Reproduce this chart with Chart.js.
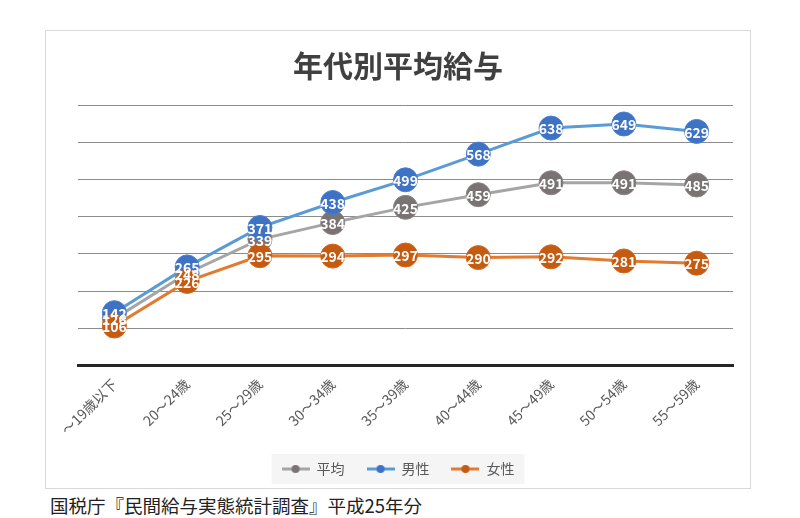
<!DOCTYPE html>
<html>
<head>
<meta charset="utf-8">
<script src="https://cdn.jsdelivr.net/npm/chart.js@4"></script>
<style>
  body { margin: 0; background: #fff; width: 800px; height: 518px; position: relative; overflow: hidden; }
  #box { position: absolute; left: 45px; top: 30px; width: 706px; height: 459px; box-sizing: border-box; border: 1px solid #d9d9d9; }
  #wrap { position: relative; width: 704px; height: 457px; }
  #note { position: absolute; left: 50px; top: 492px; font: 18.5px "Noto Sans CJK JP", sans-serif; color: #222; }
</style>
</head>
<body>
<div id="box"><div id="wrap"><canvas id="salaryChart"></canvas></div></div>
<div id="note">国税庁『民間給与実態統計調査』平成25年分</div>
<script>
// 年代別平均給与（万円）
let ageGroups = ["～19歳以下", "20～24歳", "25～29歳", "30～34歳", "35～39歳", "40～44歳", "45～49歳", "50～54歳", "55～59歳"];
let averagePay = [126, 248, 339, 384, 425, 459, 491, 491, 485];
let malePay = [142, 265, 371, 438, 499, 568, 638, 649, 629];
let femalePay = [106, 226, 295, 294, 297, 290, 292, 281, 275];

let jpFont = '"Noto Sans CJK JP", sans-serif';

function legendMarker(lineColor, dotColor) {
    let c = document.createElement("canvas");
    c.width = 28;
    c.height = 10;
    let ctx = c.getContext("2d");
    ctx.strokeStyle = lineColor;
    ctx.lineWidth = 3;
    ctx.beginPath();
    ctx.moveTo(0, 5);
    ctx.lineTo(28, 5);
    ctx.stroke();
    ctx.fillStyle = dotColor;
    ctx.beginPath();
    ctx.arc(14, 5, 4, 0, Math.PI * 2);
    ctx.fill();
    return c;
}

// 点の中に値を白文字で描く
let valueLabels = {
    id: "valueLabels",
    afterDatasetsDraw(chart) {
        let ctx = chart.ctx;
        ctx.save();
        ctx.font = "bold 14px " + jpFont;
        ctx.fillStyle = "#fff";
        ctx.textAlign = "center";
        ctx.textBaseline = "middle";
        [0, 1, 2].forEach(i => {
            let meta = chart.getDatasetMeta(i);
            meta.data.forEach((pt, j) => {
                ctx.fillText(chart.data.datasets[i].data[j], pt.x, pt.y + 1);
            });
        });
        ctx.restore();
    }
};

// 凡例の背景
let legendBg = {
    id: "legendBg",
    beforeDraw(chart) {
        let boxes = chart.legend.legendHitBoxes;
        if (!boxes || !boxes.length) return;
        let left = boxes[0].left - 10;
        let last = boxes[boxes.length - 1];
        let right = last.left + last.width + 10;
        let ctx = chart.ctx;
        ctx.save();
        ctx.fillStyle = "#f5f5f5";
        ctx.fillRect(left, boxes[0].top - 8, right - left, boxes[0].height + 16);
        ctx.restore();
    }
};

let markers = [
    legendMarker("#a5a5a5", "#7a7373"),
    legendMarker("#5b9bd5", "#3d72c4"),
    legendMarker("#e07b30", "#c55a11")
];

new Chart(document.getElementById("salaryChart"), {
    type: "line",
    data: {
        labels: ageGroups,
        datasets: [
            {
                label: "平均",
                data: averagePay,
                borderColor: "#a5a5a5",
                backgroundColor: "#7a7373",
                pointBackgroundColor: "#7a7373",
                pointBorderColor: "#8c8686",
                borderWidth: 3,
                pointRadius: 12,
                pointBorderWidth: 1,
                order: 2,
                clip: false
            },
            {
                label: "男性",
                data: malePay,
                borderColor: "#5b9bd5",
                backgroundColor: "#3d72c4",
                pointBackgroundColor: "#3d72c4",
                pointBorderColor: "#4a80d0",
                borderWidth: 3,
                pointRadius: 12,
                pointBorderWidth: 1,
                order: 1,
                clip: false
            },
            {
                label: "女性",
                data: femalePay,
                borderColor: "#e07b30",
                backgroundColor: "#c55a11",
                pointBackgroundColor: "#c55a11",
                pointBorderColor: "#d06a22",
                borderWidth: 3,
                pointRadius: 12,
                pointBorderWidth: 1,
                order: 0,
                clip: false
            }
        ]
    },
    options: {
        responsive: true,
        maintainAspectRatio: false,
        animation: false,
        layout: { padding: { left: 17, right: 17, top: 0, bottom: 2 } },
        plugins: {
            title: {
                display: true,
                text: "年代別平均給与",
                color: "#404040",
                font: { family: jpFont, size: 30, weight: "bold" },
                padding: { top: 17, bottom: 21 }
            },
            legend: {
                position: "bottom",
                labels: {
                    usePointStyle: true,
                    pointStyleWidth: 28,
                    color: "#595959",
                    font: { family: jpFont, size: 14 },
                    padding: 22,
                    generateLabels(chart) {
                        return chart.data.datasets.map((ds, i) => ({
                            text: ds.label,
                            pointStyle: markers[i],
                            fontColor: "#595959",
                            datasetIndex: i,
                            hidden: false
                        }));
                    }
                }
            },
            tooltip: { enabled: false }
        },
        scales: {
            x: {
                offset: true,
                grid: { display: false },
                border: { display: true, color: "#262626", width: 3 },
                ticks: {
                    color: "#595959",
                    font: { family: jpFont, size: 14 },
                    minRotation: 45,
                    maxRotation: 45,
                    padding: 2
                }
            },
            y: {
                min: 0,
                max: 700,
                afterFit(scale) { scale.width = 15; },
                ticks: { stepSize: 100, display: false },
                border: { display: false },
                grid: { color: "#8c8c8c", lineWidth: 1, drawTicks: false }
            }
        }
    },
    plugins: [legendBg, valueLabels]
});
</script>
</body>
</html>
